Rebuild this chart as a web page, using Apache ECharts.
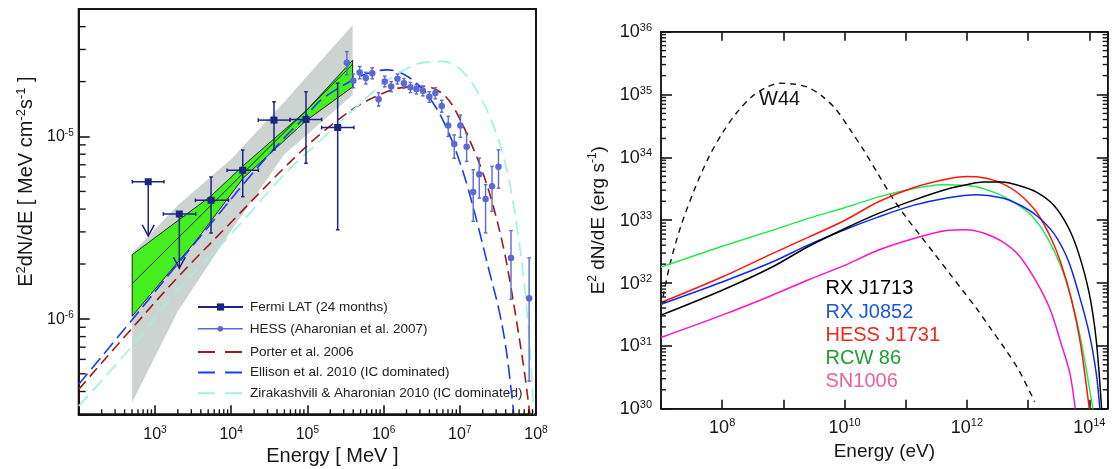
<!DOCTYPE html>
<html><head><meta charset="utf-8">
<script src="https://cdn.jsdelivr.net/npm/echarts@6/dist/echarts.min.js"></script>
<style>html,body{margin:0;padding:0;background:#fff}#c{width:1115px;height:469px}</style>
</head><body><div id="c"></div>
<script>
// ---------------- LEFT PANEL DATA (Energy in MeV, E^2 dN/dE in MeV cm^-2 s^-1) ----------------
const fermiE     = [817, 2090, 5450, 1.42e4, 3.65e4, 9.6e4, 2.5e5];
const fermiFlux  = [5.65e-6, 3.76e-6, 4.47e-6, 6.53e-6, 1.23e-5, 1.24e-5, 1.12e-5];
const fermiElo   = [505, 1290, 3400, 8850, 2.27e4, 5.92e4, 1.54e5];
const fermiEhi   = [1315, 3430, 9230, 2.28e4, 5.92e4, 1.54e5, 4.09e5];
const fermiFlo   = [null, null, 2.96e-6, 4.68e-6, 8.43e-6, 7.13e-6, 3.08e-6];
const fermiFhi   = [null, null, 6.0e-6, 8.43e-6, 1.55e-5, 1.76e-5, 1.96e-5];
const fermiUL    = [2.85e-6, 1.9e-6, null, null, null, null, null];

const hessE   = [3.30e5, 4.01e5, 4.86e5, 5.85e5, 7.1e5, 8.61e5, 1.035e6, 1.26e6, 1.52e6, 1.85e6, 2.25e6, 2.70e6, 3.28e6, 3.98e6, 4.78e6, 5.8e6, 7.05e6, 8.46e6, 1.02e7, 1.23e7, 1.5e7, 1.8e7, 2.18e7, 2.65e7, 3.22e7, 4.7e7, 8.13e7];
const hessFlux= [2.54e-5, 2.02e-5, 2.24e-5, 2.09e-5, 2.22e-5, 1.6e-5, 2.0e-5, 1.88e-5, 2.07e-5, 1.96e-5, 1.86e-5, 1.82e-5, 1.78e-5, 1.65e-5, 1.73e-5, 1.47e-5, 1.15e-5, 9.1e-6, 1.15e-5, 8.8e-6, 4.97e-6, 6.2e-6, 4.54e-6, 5.33e-6, 6.82e-6, 2.16e-6, 1.3e-6];
const hessHi  = [2.92e-5, 2.2e-5, 2.42e-5, 2.25e-5, 2.38e-5, 1.74e-5, 2.14e-5, 2.0e-5, 2.2e-5, 2.08e-5, 1.98e-5, 1.93e-5, 1.89e-5, 1.76e-5, 1.85e-5, 1.58e-5, 1.29e-5, 1.02e-5, 1.31e-5, 1.04e-5, 6.58e-6, 7.62e-6, 5.45e-6, 6.86e-6, 8.45e-6, 3.05e-6, 2.16e-6];
const hessLo  = [2.18e-5, 1.85e-5, 2.07e-5, 1.94e-5, 2.07e-5, 1.47e-5, 1.87e-5, 1.76e-5, 1.94e-5, 1.84e-5, 1.74e-5, 1.71e-5, 1.67e-5, 1.54e-5, 1.61e-5, 1.36e-5, 1.0e-5, 7.6e-6, 9.9e-6, 7.3e-6, 3.43e-6, 4.6e-6, 2.96e-6, 3.89e-6, 5.21e-6, 1.28e-6, 4.56e-7];

const porterCurve = [[100,4.11e-7],[503,8.9e-7],[2042,1.71e-6],[1.03e4,3.43e-6],[5.18e4,6.85e-6],[1.52e5,1.04e-5],[4.47e5,1.46e-5],[1.0e6,1.73e-5],[1.81e6,1.86e-5],[3.46e6,1.88e-5],[5.32e6,1.77e-5],[7.36e6,1.56e-5],[1.02e7,1.23e-5],[1.4e7,9.2e-6],[1.94e7,6.58e-6],[2.68e7,4.31e-6],[3.71e7,2.5e-6],[4.59e7,1.57e-6],[5.7e7,9.1e-7],[7.07e7,5.07e-7],[8.3e7,3.0e-7]];
const ellisonCurve = [[100,4.38e-7],[503,9.9e-7],[2042,2.03e-6],[6000,3.5e-6],[1.76e4,6.04e-6],[5.18e4,1.0e-5],[9.88e4,1.31e-5],[1.52e5,1.59e-5],[3.93e5,2.04e-5],[6.87e5,2.25e-5],[1.12e6,2.32e-5],[1.81e6,2.2e-5],[3.1e6,1.86e-5],[4.78e6,1.46e-5],[6.61e6,1.13e-5],[9.12e6,8.1e-6],[1.26e7,5.33e-6],[1.74e7,3.22e-6],[2.41e7,1.86e-6],[3.33e7,1.08e-6],[4.12e7,6.52e-7],[5.12e7,3.0e-7]];
const zirakCurve = [[100,3.33e-7],[503,7.1e-7],[2042,1.45e-6],[1.03e4,2.96e-6],[5.18e4,6.3e-6],[1.52e5,9.6e-6],[4.01e5,1.4e-5],[9.5e5,1.92e-5],[1.81e6,2.3e-5],[3.46e6,2.55e-5],[5.93e6,2.58e-5],[9.12e6,2.42e-5],[1.4e7,2.0e-5],[2.16e7,1.46e-5],[3.33e7,9.2e-6],[4.59e7,5.33e-6],[5.7e7,3.08e-6],[7.07e7,1.51e-6],[8.3e7,7.1e-7],[9.25e7,3.0e-7]];

const grayUpper  = [[503,2.3e-6],[2000,4.2e-6],[1.03e4,7.6e-6],[5e4,1.55e-5],[3.93e5,4.08e-5]];
const grayLower  = [[503,3.48e-7],[2000,1.1e-6],[1.03e4,3.1e-6],[5e4,8.0e-6],[3.93e5,1.69e-5]];
const greenUpper = [[503,2.25e-6],[5450,4.72e-6],[1.43e4,6.9e-6],[9.6e4,1.38e-5],[3.93e5,2.62e-5]];
const greenLower = [[503,1.035e-6],[3530,2.71e-6],[1.43e4,5.9e-6],[9.6e4,1.22e-5],[3.93e5,1.87e-5]];
const greenBest  = [[503,1.56e-6],[3.93e5,2.49e-5]];

// ---------------- RIGHT PANEL DATA (Energy in eV, E^2 dN/dE in erg s^-1) ----------------
const rxj1713 = [[1e7,3.08e31],[1e8,7.68e31],[6.57e8,1.8e32],[2.47e9,3.75e32],[1e10,7.32e32],[3.51e10,1.27e33],[1.32e11,2.07e33],[4.98e11,3.16e33],[1.03e12,3.71e33],[1.87e12,4.04e33],[3.63e12,4.04e33],[7.05e12,3.57e33],[1.37e13,2.8e33],[2.65e13,1.72e33],[4.51e13,7.8e32],[6.72e13,2.94e32],[1e14,6.79e31],[1.3e14,1.23e31],[1.59e14,1e30]];
const rxj0852 = [[1e7,4.6e31],[1e8,1.04e32],[6.57e8,2.16e32],[2.47e9,3.98e32],[1e10,7.06e32],[3.51e10,1.12e33],[1.32e11,1.72e33],[4.98e11,2.28e33],[1.44e12,2.54e33],[3.63e12,2.28e33],[7.05e12,1.78e33],[1.37e13,1.19e33],[2.65e13,6.1e32],[4.51e13,2.3e32],[6.72e13,6.79e31],[1e14,1.57e31],[1.3e14,3.64e30],[1.49e14,1e30]];
const hessj1731 = [[1e7,4.89e31],[1e8,1.25e32],[6.57e8,2.94e32],[2.47e9,5.27e32],[1e10,9.9e32],[3.51e10,1.95e33],[1.32e11,3.28e33],[4.98e11,4.56e33],[1.03e12,4.97e33],[1.87e12,4.73e33],[3.63e12,3.89e33],[7.05e12,2.64e33],[1.37e13,1.35e33],[2.32e13,5.4e32],[3.46e13,2.04e32],[5.15e13,5.32e31],[7.18e13,1.09e31],[1e14,1e30]];
const rcw86 = [[1e7,1.8e32],[1e8,3.84e32],[6.57e8,6.89e32],[2.47e9,1.06e33],[1e10,1.58e33],[3.51e10,2.33e33],[1.32e11,3.16e33],[3.82e11,3.66e33],[1.03e12,3.57e33],[1.87e12,3.16e33],[3.63e12,2.48e33],[7.05e12,1.72e33],[1.2e13,1.12e33],[2.04e13,5.4e32],[3.46e13,1.8e32],[5.15e13,5.32e31],[7.67e13,9.66e30],[1.14e14,1e30]];
const sn1006 = [[1e7,1.36e31],[1e8,3.08e31],[6.57e8,6.4e31],[2.47e9,1.11e32],[1e10,1.91e32],[3.51e10,3.32e32],[1.32e11,5.08e32],[4.98e11,6.89e32],[9.66e11,7.06e32],[1.87e12,6.25e32],[3.63e12,4.67e32],[7.05e12,2.76e32],[1.37e13,1.04e32],[2.32e13,3.69e31],[3.46e13,1.09e31],[4.82e13,3.64e30],[5.89e13,1e30]];
const w44 = [[1.08e7,6.01e31],[1.41e7,2.04e32],[2.09e7,7.8e32],[3.56e7,3.16e33],[6.04e7,1.01e34],[1.03e8,2.52e34],[1.75e8,5.22e34],[2.97e8,9.06e34],[5.04e8,1.27e35],[8.57e8,1.51e35],[1.46e9,1.47e35],[2.47e9,1.31e35],[4.2e9,9.6e34],[7.14e9,5.9e34],[1.21e10,2.84e34],[2.07e10,1.29e34],[3.51e10,5.48e33],[5.96e10,2.33e33],[1.01e11,1.12e33],[1.72e11,5.74e32],[2.93e11,2.94e32],[4.98e11,1.5e32],[8.46e11,7.68e31],[1.44e12,3.93e31],[2.44e12,1.89e31],[4.15e12,9.09e30],[7.05e12,4.11e30],[1.28e13,1.29e30]];

const rightNames  = ['RX J1713', 'RX J0852', 'HESS J1731', 'RCW 86', 'SN1006'];
const rightLines  = ['#000000', '#0a28f0', '#ff1408', '#22ea55', '#ff12c8'];
const rightText   = ['#000000', '#1a56e6', '#ea2a1c', '#1f9e32', '#ee5e9e'];

// ---------------- helpers ----------------
const FONT = "'Liberation Sans', Arial, Helvetica, sans-serif";
const INK = '#151515';
function expLabel(skip) {
  return function (v) {
    const e = Math.log10(v), r = Math.round(e);
    if (Math.abs(e - r) > 1e-6 || (skip && skip(r))) return '';
    return '{b|10}{s|' + r + '}';
  };
}
function rich(big, small) {
  return {
    b: {fontSize: big, lineHeight: big + 1, verticalAlign: 'bottom', fontFamily: FONT, color: INK},
    s: {fontSize: small, lineHeight: small, verticalAlign: 'top', fontFamily: FONT, color: INK}
  };
}
function minorList(n0, n1, lo, hi) {
  const out = [];
  for (let n = n0; n <= n1; n++) for (let k = 2; k <= 9; k++) {
    const v = k * Math.pow(10, n);
    if (v > lo * 1.001 && v < hi * 0.999) out.push(v);
  }
  return out;
}
// minor tick marks placed through the axis scale (api.coord)
function tickSeries(xi, yi, data, vertical, dir, len) {
  return {
    type: 'custom', xAxisIndex: xi, yAxisIndex: yi, silent: true, z: 20, clip: false, data: data,
    renderItem: function (params, api) {
      const p = api.coord(data[params.dataIndex]);
      const shape = vertical ? {x1: p[0], y1: p[1], x2: p[0], y2: p[1] - dir * len}
                             : {x1: p[0], y1: p[1], x2: p[0] + dir * len, y2: p[1]};
      return {type: 'line', shape: shape, style: {stroke: INK, lineWidth: 1.4}};
    }
  };
}
function bandSeries(upper, lower, fill, stroke, z) {
  const verts = upper.concat(lower.slice().reverse());
  return {
    type: 'custom', xAxisIndex: 0, yAxisIndex: 0, silent: true, z: z, clip: true, data: verts,
    renderItem: function (params, api) {
      if (params.dataIndex !== 0) return null;
      return {type: 'polygon', shape: {points: verts.map(function (p) { return api.coord(p); })},
              style: {fill: fill, stroke: stroke || null, lineWidth: stroke ? 0.9 : 0}};
    }
  };
}

const FERMI = '#1b2483', HESS = '#5a69d6';
const leftXMin = 100, leftXMax = 1e8, leftYMin = 3e-7, leftYMax = 5e-5;
const rightXMin = 1e7, rightXMax = 2e14, rightYMin = 1e30, rightYMax = 1e36;

const series = [
  bandSeries(grayUpper, grayLower, '#cdd3d1', null, 1),
  bandSeries(greenUpper, greenLower, '#45ee1e', '#111', 2),
  {type: 'line', xAxisIndex: 0, yAxisIndex: 0, data: greenBest, symbol: 'none', silent: true, z: 3,
   lineStyle: {color: '#111', width: 0.9}},
  {name: 'Porter et al. 2006', type: 'line', xAxisIndex: 0, yAxisIndex: 0, data: porterCurve, smooth: 0.35,
   symbol: 'none', z: 4, lineStyle: {color: '#9c1b1b', width: 1.6, type: [11, 6]}},
  {name: 'Ellison et al. 2010 (IC dominated)', type: 'line', xAxisIndex: 0, yAxisIndex: 0, data: ellisonCurve, smooth: 0.35,
   symbol: 'none', z: 4, lineStyle: {color: '#1a3cf0', width: 1.6, type: [14, 6]}},
  {name: 'Zirakashvili & Aharonian 2010 (IC dominated)', type: 'line', xAxisIndex: 0, yAxisIndex: 0, data: zirakCurve, smooth: 0.35,
   symbol: 'none', z: 4, lineStyle: {color: '#9ef0e4', width: 1.6, type: [14, 7]}},
  // HESS error bars
  {type: 'custom', xAxisIndex: 0, yAxisIndex: 0, silent: true, z: 5,
   data: hessE.map(function (e, i) { return [e, hessFlux[i]]; }),
   renderItem: function (params, api) {
     const i = params.dataIndex;
     const hi = api.coord([hessE[i], hessHi[i]]), lo = api.coord([hessE[i], hessLo[i]]);
     const st = {stroke: HESS, lineWidth: 1.4};
     return {type: 'group', children: [
       {type: 'line', shape: {x1: hi[0], y1: hi[1], x2: lo[0], y2: lo[1]}, style: st},
       {type: 'line', shape: {x1: hi[0] - 1.8, y1: hi[1], x2: hi[0] + 1.8, y2: hi[1]}, style: st},
       {type: 'line', shape: {x1: lo[0] - 1.8, y1: lo[1], x2: lo[0] + 1.8, y2: lo[1]}, style: st}
     ]};
   }},
  {name: 'HESS (Aharonian et al. 2007)', type: 'line', xAxisIndex: 0, yAxisIndex: 0,
   data: hessE.map(function (e, i) { return [e, hessFlux[i]]; }),
   symbol: 'circle', symbolSize: 6.5, z: 6, itemStyle: {color: HESS}, lineStyle: {opacity: 0, width: 0}},
  // Fermi error bars / upper limits
  {type: 'custom', xAxisIndex: 0, yAxisIndex: 0, silent: true, z: 7,
   data: fermiE.map(function (e, i) { return [e, fermiFlux[i]]; }),
   renderItem: function (params, api) {
     const i = params.dataIndex;
     const st = {stroke: FERMI, lineWidth: 1.5};
     const c = api.coord([fermiE[i], fermiFlux[i]]);
     const l = api.coord([fermiElo[i], fermiFlux[i]]), r = api.coord([fermiEhi[i], fermiFlux[i]]);
     const ch = [
       {type: 'line', shape: {x1: l[0], y1: l[1], x2: r[0], y2: r[1]}, style: st},
       {type: 'line', shape: {x1: l[0], y1: l[1] - 1.8, x2: l[0], y2: l[1] + 1.8}, style: st},
       {type: 'line', shape: {x1: r[0], y1: r[1] - 1.8, x2: r[0], y2: r[1] + 1.8}, style: st}
     ];
     if (fermiUL[i] != null) {
       const t = api.coord([fermiE[i], fermiUL[i]]);
       ch.push({type: 'line', shape: {x1: c[0], y1: c[1], x2: t[0], y2: t[1]}, style: st});
       ch.push({type: 'polyline', shape: {points: [[t[0] - 6, t[1] - 11], [t[0], t[1]], [t[0] + 6, t[1] - 11]]}, style: {stroke: FERMI, lineWidth: 1.5, fill: null}});
     } else {
       const hi = api.coord([fermiE[i], fermiFhi[i]]), lo = api.coord([fermiE[i], fermiFlo[i]]);
       ch.push({type: 'line', shape: {x1: hi[0], y1: hi[1], x2: lo[0], y2: lo[1]}, style: st});
       ch.push({type: 'line', shape: {x1: hi[0] - 1.8, y1: hi[1], x2: hi[0] + 1.8, y2: hi[1]}, style: st});
       ch.push({type: 'line', shape: {x1: lo[0] - 1.8, y1: lo[1], x2: lo[0] + 1.8, y2: lo[1]}, style: st});
     }
     return {type: 'group', children: ch};
   }},
  {name: 'Fermi LAT (24 months)', type: 'line', xAxisIndex: 0, yAxisIndex: 0,
   data: fermiE.map(function (e, i) { return [e, fermiFlux[i]]; }),
   symbol: 'rect', symbolSize: 7, z: 8, itemStyle: {color: FERMI}, lineStyle: {opacity: 0, width: 0}},
  // minor ticks, left panel
  tickSeries(0, 0, minorList(2, 7, leftXMin, leftXMax).map(function (v) { return [v, leftYMin]; }), true, 1, 5),
  tickSeries(0, 0, minorList(-7, -5, leftYMin, leftYMax).map(function (v) { return [leftXMin, v]; }), false, 1, 7),
  // right panel curves
  {name: 'W44', type: 'line', xAxisIndex: 1, yAxisIndex: 1, data: w44, smooth: 0.3, symbol: 'none', z: 3,
   lineStyle: {color: '#111', width: 1.4, type: [6, 5]}}
];
const rightData = [rxj1713, rxj0852, hessj1731, rcw86, sn1006];
rightNames.forEach(function (n, i) {
  series.push({name: n, type: 'line', xAxisIndex: 1, yAxisIndex: 1, data: rightData[i], smooth: 0.3,
    symbol: 'none', z: 4 + (4 - i) * 0.1, lineStyle: {color: rightLines[i], width: 1.5}, itemStyle: {color: rightLines[i]}});
});
const rightYMinor = minorList(30, 35, rightYMin, rightYMax);
series.push(tickSeries(1, 1, rightYMinor.map(function (v) { return [rightXMin, v]; }), false, 1, 5));
series.push(tickSeries(1, 1, rightYMinor.map(function (v) { return [rightXMax, v]; }), false, -1, 5));

const axisLineL = {show: true, lineStyle: {color: INK, width: 2}};
const axisLineR = {show: true, lineStyle: {color: INK, width: 1.5}};
function ticks(len) { return {show: true, inside: true, length: len, lineStyle: {color: INK, width: 1.6}}; }

const option = {
  animation: false,
  backgroundColor: '#ffffff',
  textStyle: {fontFamily: FONT},
  grid: [
    {left: 78.7, top: 9, width: 457.3, height: 405.3, show: true, borderColor: INK, borderWidth: 2, containLabel: false, outerBoundsMode: 'none'},
    {left: 661, top: 31.7, width: 446.7, height: 377, show: true, borderColor: INK, borderWidth: 1.5, containLabel: false, outerBoundsMode: 'none'}
  ],
  xAxis: [
    {type: 'log', gridIndex: 0, min: leftXMin, max: leftXMax, logBase: 10,
     axisLine: axisLineL, axisTick: ticks(9), splitLine: {show: false}, minorTick: {show: false},
     axisLabel: {show: true, formatter: expLabel(function (r) { return r === 2; }), margin: 11, rich: rich(16, 10)},
     name: 'Energy [ MeV ]', nameLocation: 'middle', nameGap: 32, nameMoveOverlap: false,
     nameTextStyle: {fontSize: 20, fontFamily: FONT, color: INK, padding: [0, 0, 0, 50]}},
    {type: 'log', gridIndex: 1, min: rightXMin, max: rightXMax, logBase: 10,
     axisLine: axisLineR, axisTick: ticks(9), splitLine: {show: false},
     axisLabel: {show: true, formatter: expLabel(function (r) { return r % 2 !== 0; }), margin: 9, rich: rich(18, 11)},
     name: 'Energy (eV)', nameLocation: 'middle', nameGap: 34, nameMoveOverlap: false,
     nameTextStyle: {fontSize: 19, fontFamily: FONT, color: INK}},
    {type: 'log', gridIndex: 1, position: 'top', min: rightXMin, max: rightXMax, logBase: 10,
     axisLine: axisLineR, axisTick: ticks(9), splitLine: {show: false}, axisLabel: {show: false}}
  ],
  yAxis: [
    {type: 'log', gridIndex: 0, min: leftYMin, max: leftYMax, logBase: 10,
     axisLine: axisLineL, axisTick: ticks(11), splitLine: {show: false},
     axisLabel: {show: true, formatter: expLabel(), margin: 5, rich: rich(16, 10)},
     name: '{m|E}{s|2}{m|dN/dE [ MeV cm}{s|-2}{m|s}{s|-1}{m| ]}', nameLocation: 'middle', nameGap: 42, nameRotate: 90, nameMoveOverlap: false,
     nameTextStyle: {fontFamily: FONT, color: INK, padding: [0, 0, 0, 60],
       rich: {m: {fontSize: 20, lineHeight: 22, verticalAlign: 'bottom', fontFamily: FONT, color: INK},
              s: {fontSize: 13, lineHeight: 13, verticalAlign: 'top', fontFamily: FONT, color: INK}}}},
    {type: 'log', gridIndex: 1, min: rightYMin, max: rightYMax, logBase: 10,
     axisLine: axisLineR, axisTick: ticks(11), splitLine: {show: false},
     axisLabel: {show: true, formatter: expLabel(), margin: 9, rich: rich(18, 11)},
     name: '{m|E}{s|2}{m| dN/dE (erg s}{s|-1}{m|)}', nameLocation: 'middle', nameGap: 53, nameRotate: 90, nameMoveOverlap: false,
     nameTextStyle: {fontFamily: FONT, color: INK,
       rich: {m: {fontSize: 19, lineHeight: 21, verticalAlign: 'bottom', fontFamily: FONT, color: INK},
              s: {fontSize: 12, lineHeight: 12, verticalAlign: 'top', fontFamily: FONT, color: INK}}}},
    {type: 'log', gridIndex: 1, position: 'right', min: rightYMin, max: rightYMax, logBase: 10,
     axisLine: axisLineR, axisTick: ticks(11), splitLine: {show: false}, axisLabel: {show: false}}
  ],
  legend: [
    {data: [{name: 'Fermi LAT (24 months)', lineStyle: {opacity: 1, width: 2, color: FERMI}}],
     left: 192, top: 294, orient: 'vertical', itemWidth: 45, itemHeight: 9, selectedMode: false,
     textStyle: {fontSize: 13.5, lineHeight: 16, fontFamily: FONT, color: '#222', padding: [0, 0, 0, 2]}},
    {data: [{name: 'HESS (Aharonian et al. 2007)', lineStyle: {opacity: 1, width: 1.5, color: HESS}}],
     left: 192, top: 315.8, orient: 'vertical', itemWidth: 45, itemHeight: 7, selectedMode: false,
     textStyle: {fontSize: 13.5, lineHeight: 16, fontFamily: FONT, color: '#222', padding: [0, 0, 0, 2]}},
    {data: [
       {name: 'Porter et al. 2006', itemStyle: {opacity: 0}, lineStyle: {type: [17, 10], width: 2}},
       {name: 'Ellison et al. 2010 (IC dominated)', itemStyle: {opacity: 0}, lineStyle: {type: [17, 10], width: 2}},
       {name: 'Zirakashvili & Aharonian 2010 (IC dominated)', itemStyle: {opacity: 0}, lineStyle: {type: [17, 10], width: 2}}],
     left: 192, top: 339, orient: 'vertical', itemWidth: 45, itemHeight: 10, itemGap: 4.6, selectedMode: false,
     textStyle: {fontSize: 13.5, lineHeight: 16, fontFamily: FONT, color: '#222', padding: [0, 0, 0, 2]}},
    {data: rightNames.map(function (n, i) { return {name: n, textStyle: {color: rightText[i]}}; }),
     icon: 'none', left: 815.5, top: 272.3, orient: 'vertical', itemWidth: 0, itemHeight: 14, itemGap: 0, selectedMode: false,
     textStyle: {fontSize: 20, lineHeight: 23.2, fontFamily: FONT}}
  ],
  graphic: [
    {type: 'text', left: 759, top: 89, silent: true, style: {text: 'W44', font: '20px ' + FONT, fill: '#111'}}
  ],
  series: series
};
const chart = echarts.init(document.getElementById('c'), null, {renderer: 'canvas'});
chart.setOption(option);
</script>
</body></html>
